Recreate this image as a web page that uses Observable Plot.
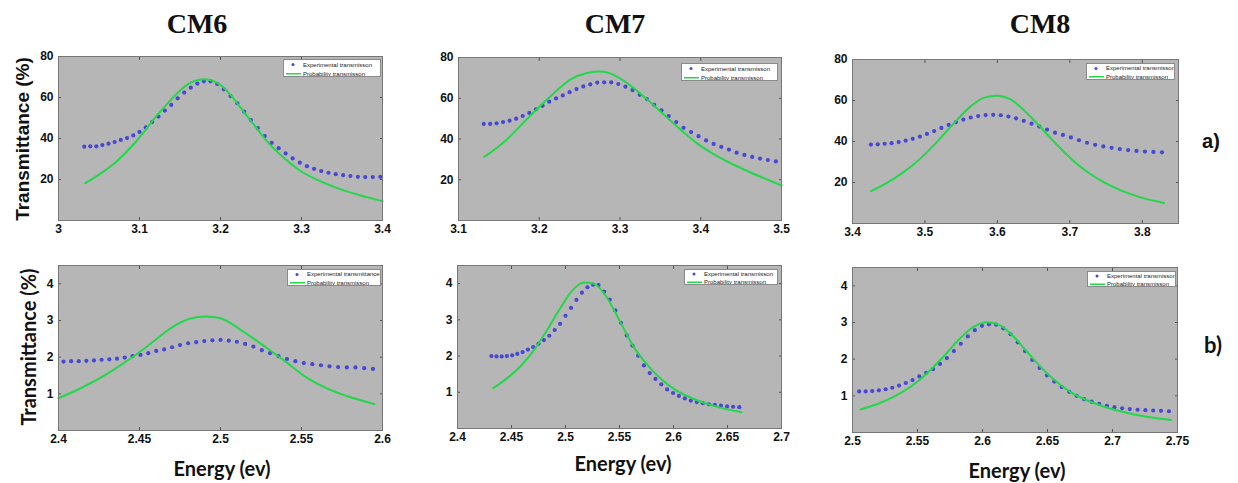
<!DOCTYPE html>
<html><head><meta charset="utf-8">
<script src="https://cdn.jsdelivr.net/npm/d3@7"></script>
<script src="https://cdn.jsdelivr.net/npm/@observablehq/plot@0.6"></script>
<style>
body{margin:0;background:#fff;}
#root{position:relative;width:1238px;height:483px;overflow:hidden;background:#fff;color:#111;}
.abs{position:absolute;white-space:nowrap;line-height:1;}
.title{font:bold 28px "Liberation Serif","Times New Roman",serif;transform:translate(-50%,-50%);}
.ylabA{font:bold 19px "Liberation Sans",Arial,sans-serif;transform:translate(-50%,-50%) rotate(-90deg);}
.ylabB{font:bold 20px Lato,"Open Sans",sans-serif;transform:translate(-50%,-50%) rotate(-90deg);}
.xlab{font:bold 20px Lato,"Open Sans",sans-serif;transform:translate(-50%,-50%);}
.rowA{font:bold 20px "Liberation Sans",Arial,sans-serif;transform:translate(-50%,-50%);}
.rowB{font:bold 22px Lato,"Open Sans",sans-serif;transform:translate(-50%,-50%);}
.legend{position:absolute;background:#fff;border:1px solid #8a8a8a;box-sizing:border-box;overflow:hidden;}
.legin{position:absolute;left:0;top:0;transform:scale(0.5);transform-origin:0 0;font:12px "Liberation Sans",Arial,sans-serif;color:#222;}
.lrow{position:relative;white-space:nowrap;}
.sym{position:absolute;left:4px;width:30px;}
.ltxt{position:absolute;left:38px;}
</style>
</head><body>
<div id="root"></div>
<script>
// ---------- data ----------
const titles = ["CM6", "CM7", "CM8"];
const rowLabels = ["a)", "b)"];
const yLabel = "Transmittance (%)";
const xLabel = "Energy (ev)";

// CM6 (a)
const cm6aE = [3.0318,3.0392,3.0467,3.0542,3.0617,3.0693,3.0769,3.0846,3.0923,3.1000,3.1078,3.1156,3.1234,3.1313,3.1392,3.1472,3.1552,3.1633,3.1714,3.1795,3.1877,3.1959,3.2041,3.2124,3.2208,3.2292,3.2376,3.2461,3.2546,3.2632,3.2718,3.2804,3.2891,3.2979,3.3067,3.3155,3.3244,3.3333,3.3423,3.3514,3.3604,3.3696,3.3787,3.3880,3.3973];
const cm6aExp = [36.0,36.2,36.2,36.8,37.5,38.3,39.3,40.2,41.5,43.2,45.4,48.0,50.7,53.6,56.4,59.6,62.4,64.8,66.8,67.9,67.9,66.6,64.0,60.7,57.2,53.1,49.0,45.1,41.2,37.9,35.3,32.7,30.3,28.2,26.5,25.2,24.1,23.3,22.6,22.1,21.7,21.3,21.2,21.2,21.3];
const cm6aFitE = [3.033,3.051,3.072,3.093,3.109,3.121,3.134,3.146,3.158,3.171,3.181,3.191,3.204,3.216,3.228,3.241,3.257,3.278,3.298,3.319,3.340,3.360,3.381,3.400];
const cm6aFit = [18.2,22.6,28.9,37.3,45.0,51.0,56.8,61.8,66.0,68.4,68.9,68.1,64.8,59.6,53.4,46.9,38.8,30.6,24.4,19.9,16.4,13.7,11.4,9.4];

// CM6 (b)
const cm6bE = [2.4031,2.4078,2.4125,2.4172,2.4219,2.4266,2.4314,2.4361,2.4409,2.4457,2.4506,2.4554,2.4603,2.4652,2.4701,2.4750,2.4800,2.4850,2.4900,2.4950,2.5000,2.5051,2.5101,2.5152,2.5203,2.5255,2.5306,2.5358,2.5410,2.5462,2.5514,2.5567,2.5620,2.5673,2.5726,2.5780,2.5833,2.5887,2.5941];
const cm6bExp = [1.88,1.89,1.89,1.90,1.91,1.93,1.94,1.96,1.99,2.03,2.06,2.11,2.17,2.21,2.27,2.33,2.38,2.41,2.44,2.46,2.47,2.45,2.42,2.36,2.29,2.19,2.11,2.03,1.95,1.89,1.84,1.81,1.78,1.75,1.73,1.72,1.72,1.70,1.68];
const cm6bFitE = [2.400,2.415,2.432,2.446,2.459,2.471,2.481,2.491,2.500,2.512,2.528,2.541,2.553,2.566,2.578,2.595];
const cm6bFit = [0.88,1.18,1.60,2.01,2.44,2.84,3.05,3.11,3.06,2.76,2.27,1.85,1.45,1.14,0.94,0.72];

// CM7 (a)
const cm7aE = [3.1313,3.1392,3.1472,3.1552,3.1633,3.1714,3.1795,3.1877,3.1959,3.2041,3.2124,3.2208,3.2292,3.2376,3.2461,3.2546,3.2632,3.2718,3.2804,3.2891,3.2979,3.3067,3.3155,3.3244,3.3333,3.3423,3.3514,3.3604,3.3696,3.3787,3.3880,3.3973,3.4066,3.4160,3.4254,3.4349,3.4444,3.4540,3.4637,3.4734,3.4831,3.4930];
const cm7aExp = [47.4,47.4,47.7,48.3,49.0,50.0,51.3,52.8,54.6,56.3,58.3,59.9,61.4,63.0,64.5,65.8,66.8,67.7,67.8,67.8,67.0,65.7,64.0,61.7,59.6,56.8,54.1,51.3,48.3,45.5,43.4,41.4,39.3,37.6,36.1,34.8,33.3,32.2,31.2,30.4,29.7,29.0];
const cm7aFitE = [3.132,3.156,3.176,3.197,3.218,3.238,3.259,3.276,3.292,3.313,3.333,3.354,3.375,3.395,3.416,3.437,3.457,3.478,3.500];
const cm7aFit = [31.2,38.4,46.2,54.6,62.5,69.0,72.4,73.1,71.5,66.2,59.6,52.1,44.6,38.0,32.6,28.1,24.4,20.8,17.2];

// CM7 (b)
const cm7bE = [2.4314,2.4361,2.4409,2.4457,2.4506,2.4554,2.4603,2.4652,2.4701,2.4750,2.4800,2.4850,2.4900,2.4950,2.5000,2.5051,2.5101,2.5152,2.5203,2.5255,2.5306,2.5358,2.5410,2.5462,2.5514,2.5567,2.5620,2.5673,2.5726,2.5780,2.5833,2.5887,2.5941,2.5996,2.6050,2.6105,2.6160,2.6216,2.6271,2.6327,2.6383,2.6439,2.6496,2.6552,2.6609];
const cm7bExp = [2.00,1.99,1.99,2.00,2.02,2.06,2.11,2.18,2.25,2.34,2.44,2.56,2.72,2.89,3.11,3.33,3.55,3.75,3.90,3.97,3.96,3.78,3.56,3.26,2.92,2.57,2.29,2.01,1.74,1.53,1.37,1.22,1.08,0.98,0.90,0.83,0.77,0.73,0.70,0.67,0.65,0.63,0.61,0.60,0.59];
const cm7bFitE = [2.433,2.446,2.459,2.471,2.483,2.496,2.506,2.517,2.526,2.536,2.545,2.554,2.563,2.576,2.588,2.600,2.613,2.628,2.644,2.663];
const cm7bFit = [1.11,1.39,1.74,2.17,2.72,3.36,3.80,4.03,4.00,3.72,3.27,2.75,2.26,1.75,1.38,1.10,0.89,0.71,0.57,0.45];

// CM8 (a)
const cm8aE = [3.4254,3.4349,3.4444,3.4540,3.4637,3.4734,3.4831,3.4930,3.5028,3.5127,3.5227,3.5328,3.5429,3.5530,3.5632,3.5735,3.5838,3.5942,3.6047,3.6152,3.6257,3.6364,3.6471,3.6578,3.6686,3.6795,3.6905,3.7015,3.7126,3.7237,3.7349,3.7462,3.7576,3.7690,3.7805,3.7920,3.8037,3.8154,3.8272];
const cm8aExp = [38.5,38.6,38.9,39.2,39.7,40.4,41.3,42.4,43.7,45.1,46.6,48.1,49.5,50.7,51.7,52.4,52.9,53.0,52.8,52.2,51.3,50.1,48.7,47.3,45.8,44.3,43.2,42.0,40.6,39.4,38.4,37.6,36.9,36.3,35.8,35.4,35.1,34.9,34.7];
const cm8aFitE = [3.4255,3.4464,3.4696,3.4928,3.5160,3.5392,3.5624,3.5810,3.5995,3.6181,3.6367,3.6552,3.6784,3.7016,3.7248,3.7480,3.7712,3.7944,3.8302];
const cm8aFit = [15.8,19.6,24.8,31.4,39.6,48.6,56.9,61.3,62.3,60.5,55.3,48.6,39.8,31.6,25.0,19.9,16.0,13.1,10.0];

// CM8 (b)
const cm8bE = [2.5051,2.5101,2.5152,2.5203,2.5255,2.5306,2.5358,2.5410,2.5462,2.5514,2.5567,2.5620,2.5673,2.5726,2.5780,2.5833,2.5887,2.5941,2.5996,2.6050,2.6105,2.6160,2.6216,2.6271,2.6327,2.6383,2.6439,2.6496,2.6552,2.6609,2.6667,2.6724,2.6782,2.6840,2.6898,2.6957,2.7015,2.7074,2.7133,2.7193,2.7253,2.7313,2.7373,2.7434];
const cm8bExp = [1.12,1.12,1.13,1.15,1.18,1.22,1.28,1.35,1.43,1.53,1.63,1.73,1.87,2.03,2.22,2.42,2.62,2.79,2.91,2.95,2.94,2.84,2.68,2.46,2.22,1.98,1.76,1.56,1.39,1.24,1.11,1.00,0.91,0.84,0.78,0.73,0.69,0.66,0.64,0.62,0.61,0.60,0.59,0.58];
const cm8bFitE = [2.5064,2.5187,2.5315,2.5444,2.5572,2.5700,2.5828,2.5931,2.6033,2.6136,2.6238,2.6341,2.6444,2.6546,2.6674,2.6803,2.6931,2.7059,2.7187,2.7315,2.7449];
const cm8bFit = [0.63,0.77,0.97,1.24,1.61,2.07,2.57,2.88,3.01,2.92,2.62,2.21,1.80,1.45,1.11,0.88,0.71,0.58,0.48,0.40,0.34];

// tick values
const yTicksA = [20, 40, 60, 80];
const yTicksB = [1, 2, 3, 4];
const xTicksCM6a = [3, 3.1, 3.2, 3.3, 3.4];
const xTicksCM6b = [2.4, 2.45, 2.5, 2.55, 2.6];
const xTicksCM7a = [3.1, 3.2, 3.3, 3.4, 3.5];
const xTicksCM7b = [2.4, 2.45, 2.5, 2.55, 2.6, 2.65, 2.7];
const xTicksCM8a = [3.4, 3.5, 3.6, 3.7, 3.8];
const xTicksCM8b = [2.5, 2.55, 2.6, 2.65, 2.7, 2.75];

// legend texts
const legendExp = ["Experimental transmisson", "Experimental transmittance", "Experimental transmisson", "Experimental transmisson", "Experimental transmisson", "Experimental transmisson"];
const legendFit = "Probability transmisson";

// ---------- layout ----------
const root = document.getElementById("root");
const panels = [
  {E: cm6aE, T: cm6aExp, fE: cm6aFitE, fT: cm6aFit, xd: [3, 3.4], yd: [0, 80], xt: xTicksCM6a, yt: yTicksA, box: [58, 56, 324, 164], leg: [283, 59, 98, 18]},
  {E: cm6bE, T: cm6bExp, fE: cm6bFitE, fT: cm6bFit, xd: [2.4, 2.6], yd: [0, 4.5], xt: xTicksCM6b, yt: yTicksB, box: [58, 265, 324, 165], leg: [287, 269, 94, 17]},
  {E: cm7aE, T: cm7aExp, fE: cm7aFitE, fT: cm7aFit, xd: [3.1, 3.5], yd: [0, 80], xt: xTicksCM7a, yt: yTicksA, box: [458, 57, 323, 163], leg: [681, 63, 97, 18]},
  {E: cm7bE, T: cm7bExp, fE: cm7bFitE, fT: cm7bFit, xd: [2.4, 2.7], yd: [0, 4.5], xt: xTicksCM7b, yt: yTicksB, box: [457, 265, 324, 163], leg: [684, 269, 94, 16]},
  {E: cm8aE, T: cm8aExp, fE: cm8aFitE, fT: cm8aFit, xd: [3.4, 3.85], yd: [0, 80], xt: xTicksCM8a, yt: yTicksA, box: [852, 59, 326, 164], leg: [1086, 63, 89, 17]},
  {E: cm8bE, T: cm8bExp, fE: cm8bFitE, fT: cm8bFit, xd: [2.5, 2.75], yd: [0, 4.5], xt: xTicksCM8b, yt: yTicksB, box: [852, 267, 325, 165], leg: [1087, 271, 89, 16]}
];

const dotColor = "#4848d4";
const lineColor = "#22d84a";

panels.forEach((p, k) => {
  const [fx, fy, fw, fh] = p.box;
  const mL = 34, mR = 8, mT = 6, mB = 22;
  const exp = p.E.map((e, i) => ({e, t: p.T[i]}));
  const fit = p.fE.map((e, i) => ({e, t: p.fT[i]}));
  const chart = Plot.plot({
    width: fw + mL + mR,
    height: fh + mT + mB,
    marginLeft: mL, marginRight: mR, marginTop: mT, marginBottom: mB,
    x: {domain: p.xd},
    y: {domain: p.yd},
    style: {fontFamily: "'Liberation Sans', Arial, sans-serif", fontSize: "12px", fontWeight: "bold", color: "#111", background: "transparent", overflow: "visible"},
    marks: [
      Plot.frame({fill: "#b6b6b6", stroke: "none"}),
      Plot.dot(exp, {x: "e", y: "t", r: 2.1, fill: dotColor, stroke: "none"}),
      Plot.line(fit, {x: "e", y: "t", stroke: lineColor, strokeWidth: 2, curve: "monotone-x"}),
      Plot.axisX(p.xt, {anchor: "bottom", tickSize: 0, tickPadding: 4, label: null, tickFormat: d => String(d)}),
      Plot.axisX(p.xt, {anchor: "bottom", tickSize: -3, fill: "none", stroke: "#555"}),
      Plot.axisX(p.xt, {anchor: "top", tickSize: -3, fill: "none", stroke: "#555"}),
      Plot.axisY(p.yt, {anchor: "left", tickSize: 0, tickPadding: 5, label: null, tickFormat: d => String(d)}),
      Plot.axisY(p.yt, {anchor: "left", tickSize: -3, fill: "none", stroke: "#555"}),
      Plot.axisY(p.yt, {anchor: "right", tickSize: -3, fill: "none", stroke: "#555"}),
      Plot.frame({stroke: "#777", fill: "none"})
    ]
  });
  chart.style.position = "absolute";
  chart.style.left = (fx - mL) + "px";
  chart.style.top = (fy - mT) + "px";
  root.appendChild(chart);

  // legend
  const [lx, ly, lw, lh] = p.leg;
  const lg = document.createElement("div");
  lg.className = "legend";
  lg.style.left = lx + "px"; lg.style.top = ly + "px";
  lg.style.width = lw + "px"; lg.style.height = lh + "px";
  const rh = lh;
  lg.innerHTML = `<div class="legin" style="width:${lw * 2}px;height:${lh * 2}px">
    <div class="lrow" style="height:${rh}px;line-height:${rh}px">
      <span class="sym" style="top:0;height:${rh}px"><span style="position:absolute;left:11px;top:${rh / 2 - 3}px;width:6px;height:6px;border-radius:3px;background:${dotColor}"></span></span>
      <span class="ltxt">${legendExp[k]}</span></div>
    <div class="lrow" style="height:${rh}px;line-height:${rh}px">
      <span class="sym" style="top:0;height:${rh}px"><span style="position:absolute;left:0;top:${rh / 2 - 1.5}px;width:30px;height:3px;background:${lineColor}"></span></span>
      <span class="ltxt">${legendFit}</span></div>
  </div>`;
  root.appendChild(lg);
});

// text labels
function addText(cls, txt, x, y) {
  const d = document.createElement("div");
  d.className = "abs " + cls;
  d.textContent = txt;
  d.style.left = x + "px"; d.style.top = y + "px";
  root.appendChild(d);
}
addText("title", titles[0], 197, 24);
addText("title", titles[1], 615, 24);
addText("title", titles[2], 1040, 24);
addText("ylabA", yLabel, 23, 139);
addText("ylabB", yLabel, 28, 347);
addText("xlab", xLabel, 222, 468);
addText("xlab", xLabel, 623, 463);
addText("xlab", xLabel, 1017, 470);
addText("rowA", rowLabels[0], 1211, 141);
addText("rowB", rowLabels[1], 1213, 344);
</script>
</body></html>
